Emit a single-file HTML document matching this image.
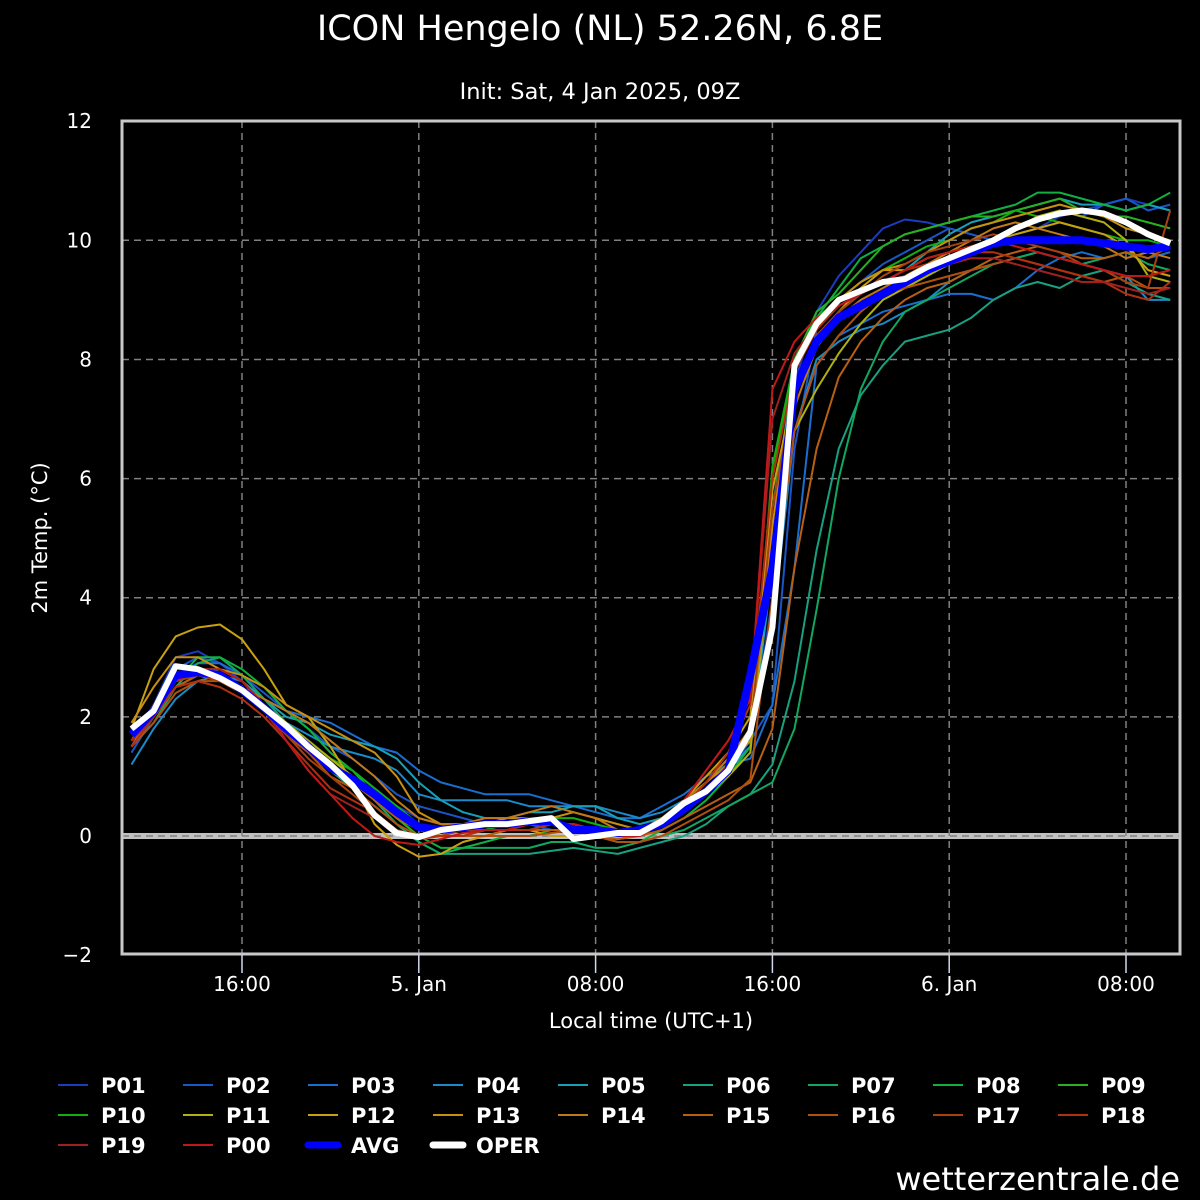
<!DOCTYPE html>
<html><head><meta charset="utf-8">
<style>
html,body{margin:0;padding:0;background:#000;}
svg{display:block;font-family:"DejaVu Sans","Liberation Sans",sans-serif;}
</style></head>
<body>
<svg id="chart" width="1200" height="1200" viewBox="0 0 1200 1200" xmlns="http://www.w3.org/2000/svg">
<rect x="0" y="0" width="1200" height="1200" fill="#000"/>
<text x="600" y="40" text-anchor="middle" fill="#fff" font-size="35">ICON Hengelo (NL) 52.26N, 6.8E</text>
<text x="600" y="99" text-anchor="middle" fill="#fff" font-size="22.5">Init: Sat, 4 Jan 2025, 09Z</text>
<g id="grid"></g>
<g id="series"></g>
<rect x="122" y="121" width="1058" height="833" fill="none" stroke="#c8c8c8" stroke-width="3"/>
<g id="axes"></g>
<text x="651" y="1028" text-anchor="middle" fill="#fff" font-size="21">Local time (UTC+1)</text>
<text transform="translate(47,538) rotate(-90)" text-anchor="middle" fill="#fff" font-size="21">2m Temp. (°C)</text>
<g id="legend"></g>
<text x="1180" y="1190" text-anchor="end" fill="#fff" font-size="32">wetterzentrale.de</text>
</svg>
<script>
const yTicks = [-2,0,2,4,6,8,10,12];
const xTickHours = [5,13,21,29,37,45];
const xTickLabels = ["16:00","5. Jan","08:00","16:00","6. Jan","08:00"];
const memberNames = ["P01","P02","P03","P04","P05","P06","P07","P08","P09","P10","P11","P12","P13","P14","P15","P16","P17","P18","P19","P00"];
const P01=[1.5,2.2,3.0,3.1,2.9,2.6,2.2,1.9,1.6,1.3,1.1,0.8,0.5, 0.3,0.2,0.1,0.1,0.2,0.2,0.1,0.1,0.0,0.0,0.1,0.3,0.6,0.9,1.2,1.5, 4.0,7.6,8.8,9.4,9.8,10.2,10.35,10.3,10.2,10.1,10.0,10.1,10.2,10.4,10.5,10.6,10.7,10.6,10.5];
const P02=[1.4,2.0,2.8,3.0,2.9,2.7,2.4,2.1,1.8,1.5,1.3,1.0,0.7, 0.5,0.4,0.3,0.2,0.2,0.2,0.1,0.1,0.1,0.0,0.1,0.2,0.5,0.8,1.1,1.6, 2.2,6.5,8.5,9.0,9.3,9.6,9.8,10.0,10.2,10.1,10.0,10.2,10.3,10.5,10.4,10.6,10.7,10.5,10.6];
const P03=[1.6,2.1,2.7,2.9,2.9,2.7,2.3,2.1,2.0,1.9,1.7,1.5,1.4, 1.1,0.9,0.8,0.7,0.7,0.7,0.6,0.5,0.4,0.3,0.3,0.5,0.7,1.0,1.2,1.3, 2.2,4.5,7.9,8.4,8.6,8.8,8.9,9.0,9.1,9.1,9.0,9.2,9.5,9.7,9.8,9.7,9.8,9.7,9.8];
const P04=[1.2,1.8,2.3,2.6,2.7,2.6,2.2,1.9,1.7,1.5,1.4,1.3,1.1, 0.7,0.6,0.6,0.6,0.6,0.5,0.5,0.5,0.5,0.4,0.3,0.4,0.6,0.9,1.3,1.7, 3.5,6.8,8.0,8.3,8.5,8.6,8.8,9.0,9.3,9.5,9.6,9.7,9.8,9.7,9.6,9.5,9.4,9.0,9.0];
const P05=[1.5,2.0,2.5,2.7,2.8,2.6,2.3,2.0,1.9,1.7,1.6,1.5,1.3, 0.9,0.6,0.4,0.3,0.3,0.4,0.4,0.5,0.5,0.3,0.2,0.3,0.5,0.8,1.1,1.5, 4.5,7.5,8.3,8.8,9.1,9.3,9.5,9.8,10.1,10.3,10.4,10.5,10.6,10.7,10.6,10.6,10.5,10.6,10.5];
const P06=[1.6,2.1,2.6,2.8,2.8,2.6,2.2,1.8,1.4,1.1,0.8,0.5,0.2, -0.1,-0.3,-0.3,-0.3,-0.3,-0.3,-0.25,-0.2,-0.25,-0.3,-0.2,-0.1,0.0,0.2,0.5,0.7, 1.2,2.6,4.8,6.5,7.4,7.9,8.3,8.4,8.5,8.7,9.0,9.2,9.3,9.2,9.4,9.5,9.3,9.1,9.0];
const P07=[1.5,1.9,2.5,2.9,3.0,2.7,2.3,1.9,1.5,1.2,1.0,0.6,0.2, -0.1,-0.3,-0.2,-0.2,-0.2,-0.2,-0.1,-0.1,-0.2,-0.2,-0.1,0.0,0.1,0.3,0.5,0.7, 0.9,1.8,3.8,6.0,7.5,8.3,8.8,9.0,9.2,9.4,9.6,9.7,9.8,9.7,9.6,9.7,9.8,9.6,9.5];
const P08=[1.7,2.0,2.6,3.0,3.0,2.8,2.5,2.1,1.8,1.4,1.1,0.7,0.3, 0.0,-0.2,-0.2,-0.1,0.0,0.0,0.1,0.1,0.0,-0.1,-0.1,0.1,0.3,0.6,1.0,1.5, 5.5,7.8,8.7,9.2,9.7,9.9,10.1,10.2,10.3,10.4,10.5,10.6,10.8,10.8,10.7,10.6,10.5,10.6,10.8];
const P09=[1.6,2.0,2.7,2.8,2.7,2.5,2.2,1.9,1.6,1.3,1.0,0.6,0.3, 0.0,0.0,0.0,0.1,0.1,0.2,0.2,0.2,0.1,0.1,0.1,0.3,0.6,0.9,1.3,1.8, 6.0,8.0,8.8,9.1,9.5,9.9,10.1,10.2,10.3,10.4,10.4,10.5,10.6,10.7,10.5,10.4,10.4,10.3,10.2];
const P10=[1.5,2.0,2.6,2.8,2.7,2.5,2.2,1.9,1.6,1.3,1.1,0.8,0.5, 0.2,0.1,0.1,0.1,0.2,0.3,0.3,0.3,0.2,0.1,0.1,0.3,0.5,0.8,1.2,1.6, 6.2,8.0,8.7,9.0,9.3,9.5,9.7,9.9,10.0,10.2,10.3,10.5,10.4,10.3,10.2,10.1,10.0,10.0,9.9];
const P11=[1.6,2.2,2.7,2.8,2.7,2.5,2.2,1.9,1.6,1.3,1.0,0.7,0.4, 0.1,0.0,0.0,0.1,0.1,0.1,0.2,0.2,0.1,0.0,0.0,0.2,0.4,0.7,1.0,1.4, 5.0,6.8,7.5,8.1,8.6,9.0,9.2,9.4,9.6,9.8,10.0,10.2,10.4,10.5,10.4,10.3,10.0,9.4,9.3];
const P12=[1.8,2.8,3.35,3.5,3.55,3.3,2.8,2.2,2.0,1.5,0.9,0.2,-0.15, -0.35,-0.3,-0.1,0.0,0.1,0.1,0.0,0.0,0.0,-0.05,0.0,0.2,0.6,1.0,1.4,2.0, 5.8,7.5,8.3,8.8,9.2,9.5,9.5,9.7,9.8,9.9,10.0,10.1,10.2,10.3,10.2,10.1,9.9,9.5,9.4];
const P13=[1.9,2.5,3.0,3.0,2.8,2.7,2.5,2.2,2.0,1.8,1.6,1.4,1.0, 0.4,0.2,0.2,0.2,0.3,0.3,0.3,0.4,0.3,0.2,0.1,0.2,0.5,0.9,1.2,1.6, 5.2,7.8,8.5,9.0,9.3,9.5,9.6,9.8,10.0,10.2,10.3,10.4,10.5,10.6,10.5,10.4,10.2,10.1,10.0];
const P14=[1.5,2.1,2.6,2.7,2.6,2.5,2.3,2.1,1.9,1.6,1.3,1.0,0.6, 0.3,0.2,0.2,0.3,0.3,0.4,0.5,0.4,0.3,0.1,0.1,0.3,0.6,0.9,1.3,1.8, 4.8,7.2,8.2,8.7,9.0,9.2,9.4,9.6,9.8,10.0,10.2,10.3,10.2,10.1,10.0,9.9,9.7,9.8,9.7];
const P15=[1.6,2.0,2.5,2.7,2.6,2.4,2.1,1.8,1.5,1.2,0.9,0.6,0.3, 0.1,0.0,0.0,0.0,0.1,0.1,0.1,0.1,0.0,-0.05,0.0,0.1,0.3,0.5,0.7,0.9, 1.8,4.5,6.5,7.7,8.3,8.7,9.0,9.2,9.3,9.5,9.7,9.8,9.9,9.8,9.7,9.7,9.8,9.7,9.9];
const P16=[1.5,1.9,2.4,2.6,2.6,2.4,2.1,1.7,1.4,1.0,0.8,0.5,0.2, 0.0,0.0,0.0,0.0,0.0,0.0,0.05,0.1,0.0,-0.1,-0.1,0.0,0.2,0.4,0.6,0.95, 4.0,6.8,7.9,8.4,8.8,9.1,9.2,9.3,9.4,9.5,9.6,9.7,9.6,9.5,9.4,9.3,9.4,9.2,9.2];
const P17=[1.6,2.1,2.6,2.7,2.6,2.4,2.1,1.7,1.3,1.0,0.7,0.4,0.1, 0.0,0.0,0.1,0.1,0.1,0.2,0.2,0.2,0.1,0.0,0.0,0.2,0.5,0.8,1.2,1.7, 5.5,7.5,8.4,8.8,9.1,9.4,9.6,9.8,9.9,10.0,10.1,10.0,9.9,9.8,9.6,9.5,9.3,9.2,10.5];
const P18=[1.5,2.0,2.5,2.6,2.5,2.3,2.0,1.6,1.2,0.8,0.6,0.4,0.1, -0.05,0.0,0.0,0.1,0.1,0.1,0.2,0.2,0.1,0.0,0.0,0.2,0.5,0.9,1.4,2.2, 6.0,7.8,8.5,8.9,9.1,9.3,9.5,9.6,9.7,9.8,9.8,9.7,9.6,9.5,9.4,9.3,9.1,9.0,9.3];
const P19=[1.6,2.0,2.6,2.8,2.7,2.5,2.1,1.6,1.1,0.7,0.5,0.3,0.1, 0.0,0.1,0.1,0.2,0.2,0.2,0.2,0.2,0.1,0.0,0.0,0.2,0.6,1.1,1.6,2.3, 7.0,8.1,8.6,8.9,9.1,9.3,9.4,9.5,9.6,9.7,9.7,9.6,9.5,9.4,9.3,9.3,9.2,9.1,9.2];
const P00=[1.6,2.1,2.6,2.8,2.8,2.6,2.2,1.6,1.1,0.7,0.3,0.0,-0.1, -0.15,-0.05,0.05,0.1,0.1,0.2,0.2,0.2,0.1,0.0,0.0,0.2,0.6,1.1,1.6,2.3, 7.5,8.3,8.7,8.9,9.1,9.3,9.5,9.7,9.8,9.9,10.0,9.9,9.8,9.7,9.6,9.5,9.4,9.4,9.5];
const AVG=[1.7,2.1,2.7,2.75,2.7,2.45,2.15,1.8,1.5,1.15,0.95,0.7,0.4, 0.15,0.1,0.15,0.2,0.2,0.25,0.25,0.1,0.1,0.05,0.1,0.2,0.45,0.75,1.1,2.7, 4.5,7.5,8.3,8.7,8.9,9.1,9.3,9.5,9.65,9.8,9.95,10.0,10.0,10.0,10.0,9.95,9.9,9.85,9.9];
const OPER=[1.8,2.1,2.85,2.8,2.65,2.45,2.15,1.85,1.5,1.2, 0.85,0.35,0.05,-0.02,0.1,0.15,0.2,0.2,0.25,0.3, -0.05,0.0,0.05,0.05,0.25,0.55,0.75,1.1,1.75,3.5, 7.9,8.6,9.0,9.15,9.3,9.35,9.55,9.7,9.85,10.0, 10.2,10.35,10.45,10.5,10.45,10.3,10.1,9.95];
const members=[P01,P02,P03,P04,P05,P06,P07,P08,P09,P10,P11,P12,P13,P14,P15,P16,P17,P18,P19,P00];
const memberColors=["#1a3cc0","#1a56c8","#1a6ed0","#1a8ac8","#18a0b8","#18a080","#10a860","#10b040","#28b020","#10b010","#b0b010","#c8a010","#c89010","#c07818","#b86010","#b05010","#a84010","#b03010","#a02020","#c01818"];

const NS="http://www.w3.org/2000/svg";
function xs(h){return 131.5+22.1*h;}
function ys(v){return 836-59.57*v;}
function mk(tag,attrs,parent){const e=document.createElementNS(NS,tag);for(const k in attrs)e.setAttribute(k,attrs[k]);parent.appendChild(e);return e;}
const grid=document.getElementById('grid'),axes=document.getElementById('axes'),series=document.getElementById('series'),legend=document.getElementById('legend');

yTicks.forEach(v=>{
  if(v!==0&&v!==-2&&v!==12){
    const l=mk('line',{x1:122,x2:1180,y1:ys(v),y2:ys(v),stroke:'#808080','stroke-width':1.5,'stroke-dasharray':'7,5'},grid);
    
    
  }
  const t=mk('text',{x:92,y:ys(v)+7,'text-anchor':'end',fill:'#fff','font-size':20},axes);
  t.textContent=(v<0?'\u2212'+Math.abs(v):String(v));
  
  
});
const z1=mk('rect',{x:122,y:ys(0)-3,width:1058,height:6,fill:'#c0c0c0'},grid);


const z2=mk('line',{x1:122,x2:1180,y1:ys(0),y2:ys(0),stroke:'#808080','stroke-width':1.5,'stroke-dasharray':'7,5'},grid);


xTickHours.forEach((h,i)=>{
  const l=mk('line',{x1:xs(h),x2:xs(h),y1:121,y2:954,stroke:'#808080','stroke-width':1.5,'stroke-dasharray':'7,5'},grid);
  
  
  const tk=mk('line',{x1:xs(h),x2:xs(h),y1:955,y2:973,stroke:'#d0d8f0','stroke-width':1.5},axes);
  
  
  const t=mk('text',{x:xs(h),y:991,'text-anchor':'middle',fill:'#fff','font-size':20},axes);
  t.textContent=xTickLabels[i];
  
  
});
function pts(arr){return arr.map((v,i)=>xs(i).toFixed(1)+','+ys(v).toFixed(1)).join(' ');}
members.forEach((arr,i)=>{
  const p=mk('polyline',{points:pts(arr),fill:'none',stroke:memberColors[i],'stroke-width':2,'stroke-linejoin':'round'},series);
  
  
});
const pa=mk('polyline',{points:pts(AVG),fill:'none',stroke:'#0000ff','stroke-width':8,'stroke-linejoin':'round'},series);


const po=mk('polyline',{points:pts(OPER),fill:'none',stroke:'#ffffff','stroke-width':6,'stroke-linejoin':'round'},series);



const legNames=memberNames.concat(["AVG","OPER"]);
const legColors=memberColors.concat(["#0000ff","#ffffff"]);
legNames.forEach((n,i)=>{
  const col=i%9,row=Math.floor(i/9);
  const x=58+col*125,y=1085+row*30;
  const g=mk('g',{},legend);
  
  
  const w=n==="AVG"||n==="OPER"?7:2;
  mk('line',{x1:x,x2:x+30,y1:y,y2:y,stroke:legColors[i],'stroke-width':w,'stroke-linecap':n==="AVG"||n==="OPER"?'round':'butt'},g);
  const t=mk('text',{x:x+43,y:y+8,fill:'#fff','font-size':21,'font-weight':'bold'},g);
  t.textContent=n;
});
</script>
</body></html>
